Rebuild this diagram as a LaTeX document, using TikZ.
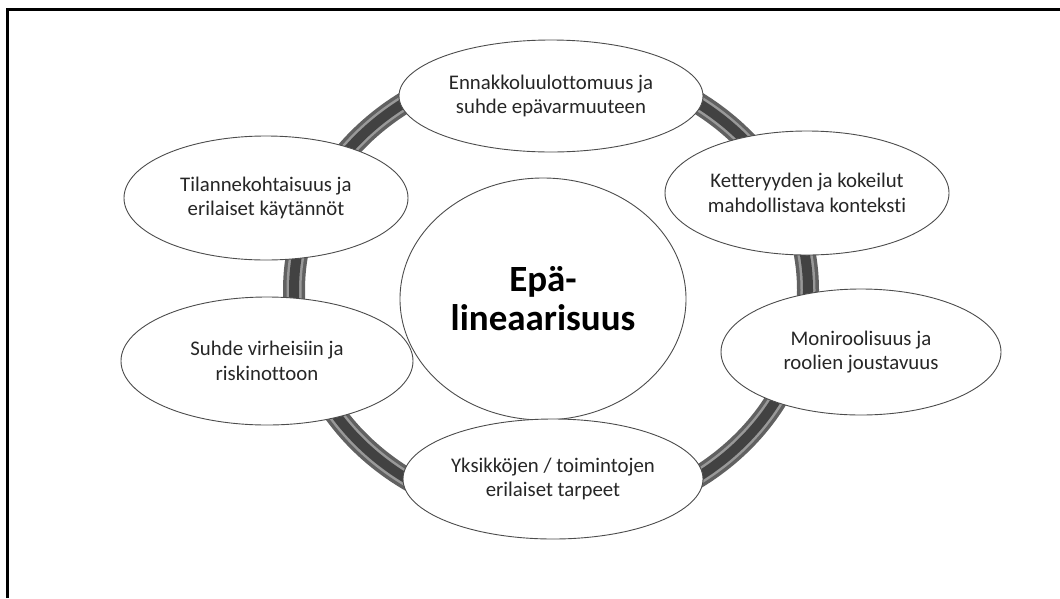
\documentclass[tikz,border=0pt]{standalone}
\usepackage{fontspec}
\setmainfont[Ligatures=NoCommon]{Carlito}
\usetikzlibrary{shapes.geometric}
\begin{document}
\begin{tikzpicture}[x=1pt,y=-1pt,
  bubble/.style 2 args={ellipse, draw=black!70, line width=0.9pt, fill=white,
    inner sep=0pt, align=center, text=black!85,
    minimum width=#1pt, minimum height=#2pt,
    font=\fontsize{20.8}{24.5}\selectfont},
  hub/.style={ellipse, draw=black!70, line width=0.9pt, fill=white,
    inner sep=0pt, align=center, text=black,
    minimum width=286pt, minimum height=242pt,
    font=\fontsize{37}{39}\selectfont\bfseries},
  tube/.style={line width=#1pt}]
\useasboundingbox (0,0) rectangle (1060,598);
% frame (top and left edges)
\draw[line width=3pt, black] (7,598) -- (7,9) -- (1060,9);
% the ring behind the bubbles, shaded like a tube
\draw[tube=22, black!62] (551,290) ellipse [x radius=257, y radius=228];
\draw[tube=15, black!40] (551,290) ellipse [x radius=257, y radius=228];
\draw[tube=10, black!74] (551,290) ellipse [x radius=257, y radius=228];
% bubbles
\node[hub] (hub) at (543,299) {Epä-\\lineaarisuus};
\node[bubble={304}{112}] (top) at (551,96) {Ennakkoluulottomuus ja\\suhde epävarmuuteen};
\node[bubble={284}{124}] (ul) at (266,198) {Tilannekohtaisuus ja\\erilaiset käytännöt};
\node[bubble={284}{124}] (ur) at (807,193) {Ketteryyden ja kokeilut\\mahdollistava konteksti};
\node[bubble={280}{126}] (rr) at (861,352) {Moniroolisuus ja\\roolien joustavuus};
\node[bubble={292}{128}] (ll) at (267,361) {Suhde virheisiin ja\\riskinottoon};
\node[bubble={300}{120}] (bot) at (553,479) {Yksikköjen / toimintojen\\erilaiset tarpeet};
\end{tikzpicture}
\end{document}
